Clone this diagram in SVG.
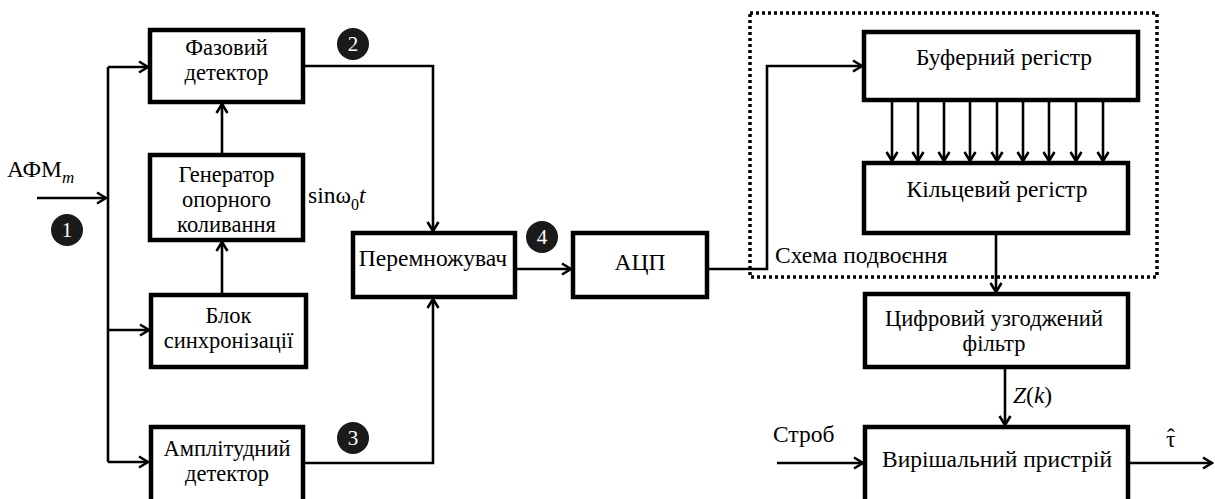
<svg xmlns="http://www.w3.org/2000/svg" width="1215" height="499" viewBox="0 0 1215 499">
<style>
.box{fill:#fff;stroke:#000;stroke-width:4.5}
.t{font-family:"Liberation Serif","Times New Roman",serif;font-size:23.5px;fill:#000;text-anchor:middle}
.m{font-size:22.5px}
.tl{font-family:"Liberation Serif","Times New Roman",serif;font-size:23.5px;fill:#000}
.c{stroke:#000;stroke-width:2.6;fill:none}
.num{fill:#1a1a1a}
.nt{font-family:"Liberation Serif","Times New Roman",serif;font-size:21px;fill:#fff;text-anchor:middle}
</style>
<defs>
<marker id="ah" markerUnits="userSpaceOnUse" markerWidth="14" markerHeight="14" viewBox="0 0 14 14" refX="12" refY="7" orient="auto">
<path d="M3,1.5 L12,7 L3,12.5" fill="none" stroke="#000" stroke-width="2.6"/>
</marker>
</defs>
<g id="connectors">
<path class="c" d="M37,198 H106" marker-end="url(#ah)"/>
<path class="c" d="M108,67 V462"/>
<path class="c" d="M108,67 H148" marker-end="url(#ah)"/>
<path class="c" d="M108,330 H149" marker-end="url(#ah)"/>
<path class="c" d="M108,462 H148" marker-end="url(#ah)"/>
<path class="c" d="M222,155 V104" marker-end="url(#ah)"/>
<path class="c" d="M222,295 V242" marker-end="url(#ah)"/>
<path class="c" d="M303,66 H433 V231" marker-end="url(#ah)"/>
<path class="c" d="M303,463 H433 V299" marker-end="url(#ah)"/>
<path class="c" d="M515,269 H571" marker-end="url(#ah)"/>
<path class="c" d="M707,269 H767 V66 H862" marker-end="url(#ah)"/>
<path class="c" d="M892,100 V161" marker-end="url(#ah)"/>
<path class="c" d="M918,100 V161" marker-end="url(#ah)"/>
<path class="c" d="M944,100 V161" marker-end="url(#ah)"/>
<path class="c" d="M970,100 V161" marker-end="url(#ah)"/>
<path class="c" d="M997,100 V161" marker-end="url(#ah)"/>
<path class="c" d="M1023,100 V161" marker-end="url(#ah)"/>
<path class="c" d="M1049,100 V161" marker-end="url(#ah)"/>
<path class="c" d="M1076,100 V161" marker-end="url(#ah)"/>
<path class="c" d="M1103,100 V161" marker-end="url(#ah)"/>
<path class="c" d="M996,233 V292" marker-end="url(#ah)"/>
<path class="c" d="M1005,367 V425" marker-end="url(#ah)"/>
<path class="c" d="M777,463 H863" marker-end="url(#ah)"/>
<path class="c" d="M1128,463 H1212" marker-end="url(#ah)"/>
</g>
<g id="doubling-circuit">
<rect x="750" y="13" width="407" height="264" fill="none" stroke="#000" stroke-width="3.5" stroke-dasharray="3 3"/>
<text class="tl" x="775" y="263">Схема подвоєння</text>
</g>
<g id="phase-detector">
<rect class="box" x="150" y="30" width="153" height="72"/>
<text class="t m" x="226.5" y="55">Фазовий</text>
<text class="t m" x="226.5" y="80">детектор</text>
</g>
<g id="generator">
<rect class="box" x="150" y="155" width="153" height="85"/>
<text class="t m" x="226.5" y="181.5">Генератор</text>
<text class="t m" x="226.5" y="206.5">опорного</text>
<text class="t m" x="226.5" y="231.5">коливання</text>
</g>
<g id="sync">
<rect class="box" x="151" y="295" width="155" height="72"/>
<text class="t m" x="228.5" y="322.5">Блок</text>
<text class="t m" x="228.5" y="347.5">синхронізації</text>
</g>
<g id="amp-detector">
<rect class="box" x="151" y="427" width="152" height="76"/>
<text class="t m" x="227" y="456">Амплітудний</text>
<text class="t m" x="227" y="481">детектор</text>
</g>
<g id="multiplier">
<rect class="box" x="353" y="233" width="162" height="64"/>
<text class="t" x="433" y="266">Перемножувач</text>
</g>
<g id="adc">
<rect class="box" x="573" y="233" width="134" height="64"/>
<text class="t" x="640" y="270">АЦП</text>
</g>
<g id="buffer-register">
<rect class="box" x="864" y="32" width="274" height="68"/>
<text class="t" x="1004" y="65">Буферний регістр</text>
</g>
<g id="ring-register">
<rect class="box" x="864" y="163" width="264" height="70"/>
<text class="t" x="997" y="197">Кільцевий регістр</text>
</g>
<g id="matched-filter">
<rect class="box" x="865" y="294" width="263" height="73"/>
<text class="t m" x="994" y="326">Цифровий узгоджений</text>
<text class="t m" x="994" y="351">фільтр</text>
</g>
<g id="decision-device">
<rect class="box" x="865" y="427" width="263" height="76"/>
<text class="t" x="997" y="467">Вирішальний пристрій</text>
</g>
<g id="labels">
<text class="tl" x="7" y="177">АФМ<tspan font-style="italic" font-size="17" dy="6">m</tspan></text>
<text class="tl" x="308" y="203">sinω<tspan font-size="16" dy="7">0</tspan><tspan font-style="italic" dy="-7">t</tspan></text>
<text class="tl" x="1013" y="403"><tspan font-style="italic">Z</tspan>(<tspan font-style="italic">k</tspan>)</text>
<text class="tl" x="773" y="442">Строб</text>
<text class="tl" x="1166" y="447">τ<tspan x="1167" y="445">ˆ</tspan></text>
</g>
<g id="markers">
<circle class="num" cx="67" cy="230" r="16"/><text class="nt" x="67" y="237">1</text>
<circle class="num" cx="353" cy="44" r="16"/><text class="nt" x="353" y="51">2</text>
<circle class="num" cx="353" cy="438" r="16"/><text class="nt" x="353" y="445">3</text>
<circle class="num" cx="542" cy="237" r="16"/><text class="nt" x="542" y="244">4</text>
</g>
</svg>
